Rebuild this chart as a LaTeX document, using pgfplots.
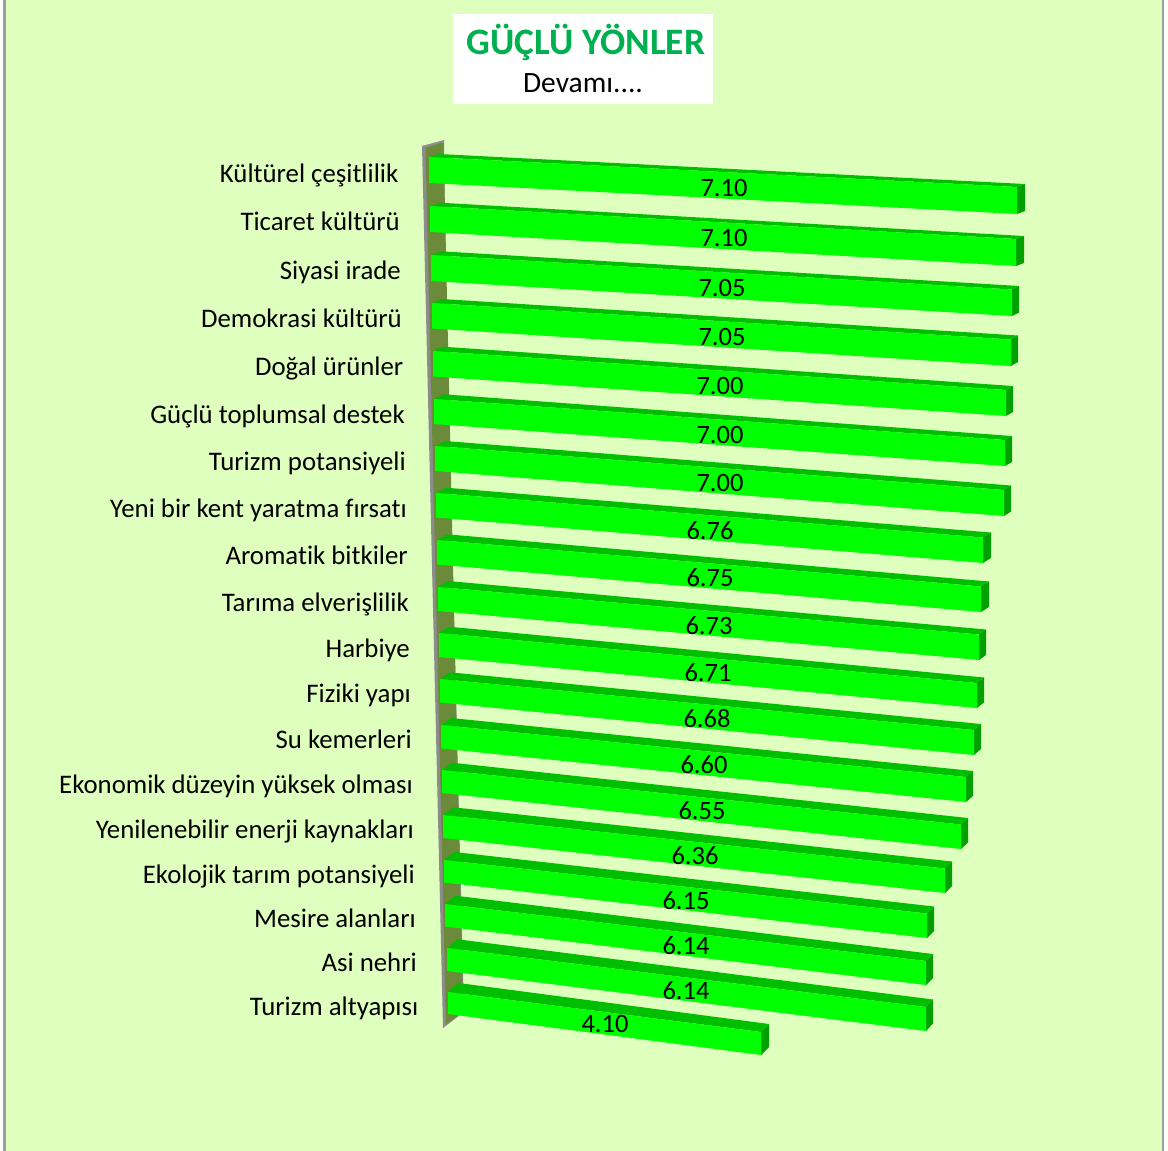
\documentclass[border=0pt]{standalone}
\usepackage{fontspec}
\setmainfont{Carlito}[Ligatures=NoCommon]
\usepackage{pgfplots}
\pgfplotsset{compat=1.18}
\definecolor{bgcol}{HTML}{DFFFBF}
\definecolor{framecol}{HTML}{A0A0A0}
\definecolor{barfront}{HTML}{00FF00}
\definecolor{bartop}{HTML}{00BF00}
\definecolor{barend}{HTML}{00A000}
\definecolor{wallcol}{HTML}{6B8B3A}
\definecolor{wallside}{HTML}{8C8C8C}
\definecolor{titlecol}{HTML}{00B050}
% one filled polygon in picture coordinates
\newcommand{\facet}[2]{%
  \edef\temp{\noexpand\addplot[draw=none,fill=#1,forget plot] coordinates {#2};}\temp}
\begin{document}
\begin{tikzpicture}
\begin{axis}[
  width=1168pt, height=1151pt, scale only axis,
  xmin=0, xmax=1168, ymin=0, ymax=1151, y dir=reverse,
  hide axis,
]
%% page, background and side frame
\facet{white}{(0,0) (1168,0) (1168,1151) (0,1151)}
\facet{bgcol}{(5,0) (1163,0) (1163,1151) (5,1151)}
\facet{framecol}{(3,0) (6,0) (6,1151) (3,1151)}
\facet{framecol}{(1161.5,0) (1164,0) (1164,1151) (1161.5,1151)}
%% title box
\facet{white}{(453,14) (713,14) (713,104) (453,104)}
%% wall behind the bars
\facet{wallside}{(422,146) (444,140) (446,300) (464,1012) (443,1028)}
\facet{wallcol}{(425.5,148) (443.5,142.5) (463,1012) (446,1024)}
%% bars: xL/yTL/yBL/xR/yTR/yBR/dxL/dyL/dxR/dyR, top to bottom
\foreach \xL/\yTL/\yBL/\xR/\yTR/\yBR/\dxL/\dyL/\dxR/\dyR in {
  429/157/183/1017/187/214/10/3/8/3,
  430/206/232/1016/239/266/10/3.3/8/3,
  431/255/281/1012/289.5/316/10/3.7/7/3.5,
  432/303/328.5/1011/339.5/366/10/4/7/4,
  433/351/376.5/1006/390/416/10/4.3/7/4,
  434/399/424/1005/440/466/10/4.7/7/4,
  435/446/471/1004/490/516/10/5/7/4.5,
  436/493/517.5/983/537.5/563/10/5.3/8/5,
  437/540/564.5/981/586.5/612/10/5.7/8/5,
  438/587/611/979/634.5/660/10/6/7/5,
  439/633/657/977/683/708/10/6.3/7/5.5,
  440/679/702.5/974/730/755/10/6.7/7/6,
  441/725/748.5/966/777/802/10/7/7/6,
  442/770/793/961/824.5/849/10/7.3/7/6.5,
  443/815/838/945/868.5/893/10.5/7.7/7/7,
  444/860/882.5/927/913.5/938/10.5/8/7/7,
  445/904/926.5/926/961/985/10.5/8.3/7/7,
  447/948/971/926/1007/1031/10.5/8.7/7/7.5,
  448/992/1014/761/1032/1055/10.5/9/8/8}{
  \pgfmathsetmacro\bLx{\xL+\dxL}
  \pgfmathsetmacro\bLy{\yTL-\dyL}
  \pgfmathsetmacro\bRx{\xR+\dxR}
  \pgfmathsetmacro\bRy{\yTR-\dyR}
  \pgfmathsetmacro\bBy{\yBR-\dyR}
  \facet{bartop}{(\xL,\yTL) (\bLx,\bLy) (\bRx,\bRy) (\xR,\yTR)}
  \facet{barend}{(\xR,\yTR) (\bRx,\bRy) (\bRx,\bBy) (\xR,\yBR)}
  \facet{barfront}{(\xL,\yTL) (\xR,\yTR) (\xR,\yBR) (\xL,\yBL)}
}
%% values on the bars
\addplot[mark=none, draw=none, forget plot, point meta=explicit symbolic,
  nodes near coords,
  every node near coord/.style={anchor=center, inner sep=0pt, font=\fontsize{26.5}{28}\selectfont, text=black}]
  coordinates {
    (724,188)[7.10] (724,238)[7.10] (722,288)[7.05] (722,337)[7.05]
    (720,386)[7.00] (720,435)[7.00] (720,483)[7.00] (710,531)[6.76]
    (710,578)[6.75] (709,626)[6.73] (708,673)[6.71] (707,719)[6.68]
    (704,765)[6.60] (702,811)[6.55] (695,856)[6.36] (686,901)[6.15]
    (686,946)[6.14] (686,991)[6.14] (605,1024)[4.10]
  };
%% category names
\addplot[mark=none, draw=none, forget plot, point meta=explicit symbolic,
  nodes near coords,
  every node near coord/.style={anchor=east, inner sep=0pt, text height=16.6pt, text depth=0pt,
    font=\fontsize{26.8}{28}\selectfont, text=black}]
  coordinates {
    (398.5,174)[Kültürel çeşitlilik]
    (400,222.5)[Ticaret kültürü]
    (401,271)[Siyasi irade]
    (402,319.5)[Demokrasi kültürü]
    (403.5,367)[Doğal ürünler]
    (405,415)[Güçlü toplumsal destek]
    (406,462)[Turizm potansiyeli]
    (407,509)[Yeni bir kent yaratma fırsatı]
    (408,556)[Aromatik bitkiler]
    (409,603)[Tarıma elverişlilik]
    (410,649)[Harbiye]
    (411,694)[Fiziki yapı]
    (412,740)[Su kemerleri]
    (413,785)[Ekonomik düzeyin yüksek olması]
    (414,830)[Yenilenebilir enerji kaynakları]
    (415,875)[Ekolojik tarım potansiyeli]
    (416,919)[Mesire alanları]
    (417,963)[Asi nehri]
    (418.5,1007)[Turizm altyapısı]
  };
%% title text
\node[font=\fontsize{37.3}{40}\selectfont\bfseries, text=titlecol] at (axis cs:586,42) {GÜÇLÜ YÖNLER};
\node[font=\fontsize{29.5}{30}\selectfont, text=black] at (axis cs:583,83) {Devamı....};
\end{axis}
\end{tikzpicture}
\end{document}
